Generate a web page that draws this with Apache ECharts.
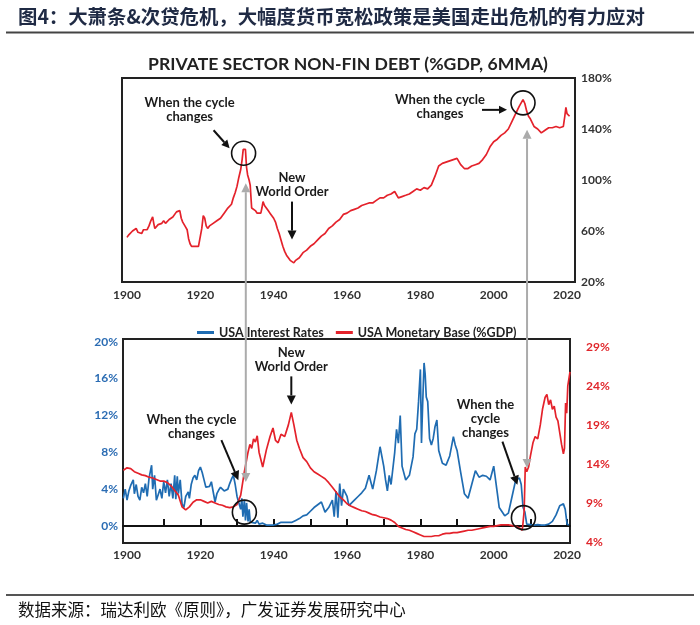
<!DOCTYPE html>
<html><head><meta charset="utf-8">
<script src="https://cdn.jsdelivr.net/npm/echarts@6/dist/echarts.min.js"></script>
<style>html,body{margin:0;padding:0;background:#fff}#c{width:700px;height:625px}</style>
</head><body><div id="c"></div>
<script>
// ---- data ----
const debtData = [[1900,55],[1900.5,57],[1901,58],[1901.5,60],[1902,61],[1902.5,62],[1903,59],[1903.5,60],[1904,58],[1904.5,61],[1905,62],[1905.5,61],[1906,64],[1906.5,68],[1907,71],[1907.3,66],[1907.6,62],[1908,63],[1908.5,65],[1909,64],[1909.5,66],[1910,68],[1910.5,66],[1911,67],[1911.5,69],[1912,69],[1912.5,71],[1913,72],[1913.5,75],[1914,76],[1914.4,76],[1914.8,70],[1915.2,67],[1915.6,68],[1916,63],[1916.4,61],[1916.8,54],[1917.2,50],[1917.6,48],[1918,47],[1918.5,48],[1919,47],[1919.5,48],[1920,49],[1920.4,62],[1920.8,72],[1921.2,70],[1921.6,64],[1922,62],[1922.5,64],[1923,64],[1923.5,66],[1924,67],[1924.5,68],[1925,68],[1925.5,70],[1926,72],[1926.5,74],[1927,75],[1927.5,78],[1928,79],[1928.5,81],[1929,86],[1929.5,90],[1930,95],[1930.5,102],[1931,108],[1931.4,116],[1931.7,124],[1932,125],[1932.3,124],[1932.6,110],[1932.9,104],[1933.3,100],[1933.6,96],[1934,78],[1934.5,77],[1935,76],[1935.5,74],[1936,73],[1936.5,74],[1936.8,78],[1937.1,83],[1937.5,80],[1938,78],[1938.5,76],[1939,74],[1939.5,72],[1940,70],[1940.5,67],[1941,62],[1941.5,58],[1942,53],[1942.5,48],[1943,44],[1943.5,41],[1944,39],[1944.5,37],[1945,36],[1945.5,35],[1946,37],[1946.5,38],[1947,39],[1947.5,41],[1948,43],[1948.5,44],[1949,45],[1950,48],[1951,50],[1952,53],[1953,56],[1954,58],[1955,62],[1956,64],[1957,67],[1958,69],[1959,73],[1960,74],[1961,76],[1962,77],[1963,78],[1964,80],[1965,81],[1966,82],[1967,82],[1968,84],[1969,86],[1970,86],[1971,88],[1972,89],[1973,91],[1974,86],[1975,87],[1976,88],[1977,89],[1978,91],[1979,93],[1980,92],[1981,94],[1982,93],[1983,96],[1984,103],[1985,111],[1986,113],[1987,114],[1988,115],[1989,116],[1990,117],[1991,112],[1992,109],[1993,109],[1994,111],[1995,112],[1996,113],[1997,116],[1998,120],[1999,126],[2000,130],[2001,132],[2002,135],[2003,137],[2004,140],[2005,146],[2006,152],[2007,158],[2008,163],[2008.5,160],[2009,154],[2009.5,150],[2010,148],[2010.5,145],[2011,142],[2012,140],[2013,137],[2014,139],[2015,141],[2016,141],[2017,142],[2018,141],[2019,142],[2019.4,150],[2019.7,157],[2020,152],[2020.4,153],[2020.7,150]];

const rateData = [[1899,3.0],[1899.5,4.0],[1900,2.8],[1900.5,3.8],[1901,4.4],[1901.7,5.0],[1902,3.5],[1902.5,4.5],[1903,3.2],[1903.5,2.8],[1904,4.2],[1904.5,3.6],[1905,4.6],[1905.5,3.2],[1906,5.2],[1906.7,6.6],[1907,4.0],[1907.5,5.5],[1908,2.8],[1908.5,3.4],[1909,4.0],[1909.5,3.0],[1910,4.8],[1910.5,3.6],[1911,5.0],[1911.5,3.2],[1912,4.6],[1912.5,3.0],[1913,5.5],[1913.3,2.9],[1913.7,5.4],[1914,3.5],[1914.5,5.0],[1915,2.4],[1915.5,2.0],[1916,3.2],[1916.7,3.7],[1917,3.0],[1917.5,4.5],[1918,5.2],[1918.5,5.5],[1919,5.0],[1919.5,6.0],[1920,6.4],[1920.5,5.8],[1921,5.0],[1921.5,4.2],[1922,4.0],[1922.5,4.3],[1923,4.8],[1923.5,4.6],[1924,2.6],[1924.5,3.5],[1925,3.9],[1925.5,4.2],[1926,4.1],[1926.5,3.8],[1927,3.6],[1927.5,4.0],[1928,4.6],[1928.6,5.2],[1929,5.5],[1929.5,4.5],[1930,3.2],[1930.5,2.5],[1931,1.8],[1931.3,3.0],[1931.6,1.0],[1932,2.8],[1932.3,0.6],[1932.6,2.5],[1933,0.5],[1933.3,1.8],[1933.6,0.4],[1934,0.5],[1935,0.3],[1935.5,0.6],[1936,0.2],[1937,0.3],[1938,0.1],[1939,0.1],[1940,0.1],[1941,0.2],[1942,0.4],[1943,0.4],[1944,0.4],[1945,0.4],[1946,0.6],[1947,0.8],[1948,1.1],[1949,1.2],[1950,1.6],[1951,2.0],[1952,2.3],[1953,2.6],[1954,1.5],[1955,2.0],[1956,2.8],[1956.5,1.0],[1957,3.8],[1957.5,0.9],[1958,4.6],[1958.5,2.2],[1959,4.0],[1960,3.2],[1960.5,2.2],[1961,2.4],[1962,2.8],[1963,3.2],[1964,3.6],[1965,4.1],[1966,5.5],[1967,4.0],[1968,6.0],[1969,8.6],[1970,6.5],[1970.5,5.0],[1971,3.8],[1971.5,5.5],[1972,4.5],[1973,8.0],[1973.5,10.5],[1974,9.0],[1974.5,12.0],[1975,6.5],[1976,5.0],[1977,5.5],[1978,7.5],[1978.5,10.0],[1979,10.5],[1979.5,13.5],[1980,17.0],[1980.3,9.0],[1980.6,13.0],[1981,17.7],[1981.3,16.5],[1981.6,14.0],[1982,13.5],[1982.5,9.5],[1983,8.8],[1983.5,9.5],[1984,10.8],[1984.5,11.5],[1985,8.2],[1986,6.8],[1987,6.6],[1988,7.6],[1989,9.7],[1989.5,8.8],[1990,8.2],[1991,5.8],[1992,3.5],[1993,3.0],[1994,4.5],[1995,6.0],[1996,5.3],[1997,5.5],[1998,5.4],[1999,5.0],[2000,6.5],[2001,3.5],[2001.5,2.0],[2002,1.7],[2003,1.1],[2004,1.4],[2005,3.2],[2006,5.0],[2007,5.2],[2007.5,4.5],[2008,2.0],[2008.5,1.5],[2009,0.2],[2010,0.15],[2011,0.1],[2012,0.15],[2013,0.1],[2014,0.1],[2015,0.2],[2016,0.5],[2017,1.2],[2018,2.2],[2019,2.4],[2019.5,1.8],[2020,0.2],[2020.5,0.1]];

const baseData = [[1899,13.2],[1900,13.5],[1901,13.4],[1902,13.0],[1903,12.8],[1904,12.6],[1905,12.5],[1906,12.3],[1907,12.2],[1908,12.0],[1909,11.8],[1910,11.8],[1911,11.6],[1912,11.2],[1913,10.6],[1914,10.0],[1915,8.5],[1916,8.1],[1917,8.5],[1918,9.1],[1919,9.4],[1920,9.4],[1921,9.2],[1922,9.0],[1923,9.2],[1924,9.0],[1925,8.8],[1926,8.7],[1927,8.5],[1928,8.4],[1929,8.5],[1930,8.8],[1931,10.0],[1932,13.0],[1933,15.5],[1933.5,16.5],[1934,16.0],[1934.5,17.2],[1935,16.8],[1935.5,17.6],[1936,15.5],[1937,13.6],[1938,15.8],[1939,17.5],[1939.8,18.6],[1940.5,17.0],[1941.2,16.7],[1942,17.8],[1942.5,18.0],[1943,17.5],[1944,19.0],[1944.8,20.6],[1945.5,19.0],[1946.3,17.0],[1947,16.0],[1948,14.8],[1949,14.3],[1950,13.5],[1951,13.0],[1952,12.7],[1953,12.4],[1954,12.1],[1955,11.6],[1956,11.0],[1957,10.4],[1958,9.8],[1959,9.4],[1960,8.9],[1961,8.6],[1962,8.4],[1963,8.2],[1964,8.0],[1965,7.9],[1966,7.7],[1967,7.5],[1968,7.4],[1969,7.2],[1970,7.1],[1971,7.0],[1972,6.8],[1973,6.5],[1974,6.0],[1975,5.8],[1976,5.6],[1977,5.5],[1978,5.3],[1979,5.1],[1980,4.9],[1981,4.7],[1982,4.7],[1983,4.7],[1984,4.8],[1985,4.8],[1986,5.0],[1987,5.1],[1988,5.1],[1989,5.2],[1990,5.2],[1991,5.3],[1992,5.4],[1993,5.5],[1994,5.5],[1995,5.6],[1996,5.7],[1997,5.8],[1998,5.9],[1999,6.0],[2000,6.0],[2001,6.1],[2002,6.2],[2003,6.2],[2004,6.2],[2005,6.1],[2006,6.0],[2007,5.8],[2007.8,5.5],[2008.3,8.0],[2008.6,13.6],[2009,13.0],[2009.5,13.6],[2010,15.0],[2010.7,16.7],[2011.3,17.5],[2012,17.2],[2012.7,19.0],[2013.3,21.0],[2014,22.5],[2014.5,22.9],[2015,21.6],[2015.5,22.2],[2016,21.0],[2016.5,21.4],[2017,20.0],[2017.5,19.5],[2018,18.0],[2018.5,16.5],[2019,15.3],[2019.3,16.0],[2019.6,21.8],[2019.9,20.5],[2020.2,24.0],[2020.8,25.8]];

const yearLabels = [1900,1920,1940,1960,1980,2000,2020];
const decadeTicks = [1910,1920,1930,1940,1950,1960,1970,1980,1990,2000,2010,2020];
const debtTicks = [20,60,100,140,180];
const rateTicks = [0,4,8,12,16,20];
const baseTicks = [4,9,14,19,24,29];

const RED = '#e4222b', BLUE = '#1f6cb2';
const FONT = 'Lato, "DejaVu Sans", sans-serif';
const CJK = '"Noto Sans CJK SC", sans-serif';

const chart = echarts.init(document.getElementById('c'), null, {renderer:'canvas'});
const lbl = (color) => ({color: color, fontFamily: FONT, fontWeight: 'bold', fontSize: 12});
const yearFmt = (v) => String(Math.round(v));

chart.setOption({
  animation: false,
  backgroundColor: '#fff',
  legend: {
    left: 192, top: 321, itemWidth: 17, itemHeight: 3, itemGap: 12,
    icon: 'rect',
    textStyle: {fontFamily: FONT, fontWeight: 'bold', fontSize: 12.5, color: '#222'},
    data: ['USA Interest Rates', 'USA Monetary Base (%GDP)']
  },
  grid: [
    {left: 122, top: 78, width: 453, height: 204, show: true, borderColor: '#222', borderWidth: 2, backgroundColor: 'transparent', outerBoundsMode: 'none'},
    {left: 123, top: 339, width: 447, height: 204, show: true, borderColor: '#222', borderWidth: 2, backgroundColor: 'transparent', outerBoundsMode: 'none'}
  ],
  xAxis: [
    {type: 'value', gridIndex: 0, min: 1898.64, max: 2022.18,
     axisLine: {show: false}, axisTick: {show: false}, splitLine: {show: false},
     axisLabel: Object.assign(lbl('#333'), {customValues: yearLabels, margin: 7, formatter: yearFmt})},
    {type: 'value', gridIndex: 1, min: 1898.9, max: 2020.8,
     axisLine: {show: true, onZero: true, onZeroAxisIndex: 1, lineStyle: {color: '#111', width: 2}},
     axisTick: {show: true, inside: true, length: 7, customValues: decadeTicks, lineStyle: {color: '#111', width: 2}},
     axisLabel: {show: false}, splitLine: {show: false}},
    {type: 'value', gridIndex: 1, min: 1898.9, max: 2020.8, position: 'bottom',
     axisLine: {show: false, onZero: false}, axisTick: {show: false}, splitLine: {show: false},
     axisLabel: Object.assign(lbl('#333'), {customValues: yearLabels, margin: 6, formatter: yearFmt})}
  ],
  yAxis: [
    {type: 'value', gridIndex: 0, position: 'right', min: 20, max: 180,
     axisLine: {show: false}, axisTick: {show: false}, splitLine: {show: false},
     axisLabel: Object.assign(lbl('#333'), {customValues: debtTicks, formatter: '{value}%', margin: 6})},
    {type: 'value', gridIndex: 1, position: 'left', min: -1.85, max: 20.3,
     axisLine: {show: false}, axisTick: {show: false}, splitLine: {show: false},
     axisLabel: Object.assign(lbl('#2b6cb3'), {customValues: rateTicks, formatter: '{value}%', margin: 5})},
    {type: 'value', gridIndex: 1, position: 'right', min: 3.87, max: 30.0,
     axisLine: {show: false}, axisTick: {show: false}, splitLine: {show: false},
     axisLabel: Object.assign(lbl('#e0262b'), {customValues: baseTicks, formatter: '{value}%', margin: 16})}
  ],
  series: [
    {name: 'Private Sector Non-Fin Debt', type: 'line', xAxisIndex: 0, yAxisIndex: 0, data: debtData,
     showSymbol: false, symbol: 'none', lineStyle: {color: RED, width: 1.7}, itemStyle: {color: RED}},
    {name: 'USA Interest Rates', type: 'line', xAxisIndex: 1, yAxisIndex: 1, data: rateData,
     showSymbol: false, symbol: 'none', lineStyle: {color: BLUE, width: 1.7}, itemStyle: {color: BLUE}},
    {name: 'USA Monetary Base (%GDP)', type: 'line', xAxisIndex: 1, yAxisIndex: 2, data: baseData,
     showSymbol: false, symbol: 'none', lineStyle: {color: RED, width: 1.7}, itemStyle: {color: RED}}
  ]
});

// ---- annotations, anchored to data positions ----
const pTop = (x, y) => chart.convertToPixel({xAxisIndex: 0, yAxisIndex: 0}, [x, y]);
const pBotL = (x, y) => chart.convertToPixel({xAxisIndex: 1, yAxisIndex: 1}, [x, y]);
const pBotR = (x, y) => chart.convertToPixel({xAxisIndex: 1, yAxisIndex: 2}, [x, y]);

function arrow(x1, y1, x2, y2, color, w, head) {
  const dx = x2 - x1, dy = y2 - y1, L = Math.hypot(dx, dy);
  const ux = dx / L, uy = dy / L;
  const bx = x2 - ux * head, by = y2 - uy * head;
  const px = -uy * head * 0.5, py = ux * head * 0.5;
  return [
    {type: 'line', z: 100, shape: {x1: x1, y1: y1, x2: bx, y2: by}, style: {stroke: color, lineWidth: w}},
    {type: 'polygon', z: 100, shape: {points: [[x2, y2], [bx + px, by + py], [bx - px, by - py]]}, style: {fill: color}}
  ];
}
function note(text, x, y) {
  return {type: 'text', z: 100, style: {text: text, x: x, y: y, align: 'center', verticalAlign: 'middle',
    font: 'bold 13px ' + FONT, fill: '#1a1a1a', lineHeight: 14}};
}
function ring(c, r) {
  return {type: 'circle', z: 100, shape: {cx: c[0], cy: c[1], r: r}, style: {fill: 'none', stroke: '#111', lineWidth: 1.6}};
}

const c1 = pTop(1931.8, 121), c2 = pTop(2008, 160.5);
const trough = pTop(1945, 36);
const c3 = pBotL(1932, 1.5), c4 = pBotL(2008.1, 0.9);
const peak = pBotR(1944.8, 20.6);
const g1x = pTop(1932.4, 100)[0], g2x = pTop(2009.1, 100)[0];

let gfx = [];
gfx.push({type: 'text', style: {text: '图4：大萧条&次贷危机，大幅度货币宽松政策是美国走出危机的有力应对', x: 18, y: 17,
  verticalAlign: 'middle', font: 'bold 19.4px ' + CJK, fill: '#1f2a44'}});
gfx.push({type: 'line', shape: {x1: 6, y1: 32.5, x2: 694, y2: 32.5}, style: {stroke: '#444', lineWidth: 2}});
gfx.push({type: 'text', style: {text: 'PRIVATE SECTOR NON-FIN DEBT (%GDP, 6MMA)', x: 348, y: 64, align: 'center', verticalAlign: 'middle',
  font: 'bold 17.6px ' + FONT, fill: '#222'}});
gfx.push({type: 'line', shape: {x1: 6, y1: 595, x2: 694, y2: 595}, style: {stroke: '#555', lineWidth: 2}});
gfx.push({type: 'text', style: {text: '数据来源：瑞达利欧《原则》，广发证券发展研究中心', x: 18, y: 610, verticalAlign: 'middle',
  font: '16.5px ' + CJK, fill: '#111'}});

const GRAY = '#ababab';
gfx = gfx.concat(arrow(g1x, 330, g1x, c1[1] + 30, GRAY, 2, 9));
gfx = gfx.concat(arrow(g1x, 330, g1x, 482, GRAY, 2, 9));
gfx = gfx.concat(arrow(g2x, 330, g2x, c2[1] + 27, GRAY, 2, 9));
gfx = gfx.concat(arrow(g2x, 330, g2x, 468, GRAY, 2, 9));

gfx.push(ring(c1, 12));
gfx.push(note('When the cycle\nchanges', c1[0] - 54, c1[1] - 43));
gfx = gfx.concat(arrow(c1[0] - 30, c1[1] - 23, c1[0] - 14, c1[1] - 5, '#111', 2, 8));
gfx.push(note('New\nWorld Order', trough[0], trough[1] - 77));
gfx = gfx.concat(arrow(trough[0], trough[1] - 60, trough[0], trough[1] - 22, '#111', 2, 9));
gfx.push(ring(c2, 12));
gfx.push(note('When the cycle\nchanges', c2[0] - 83, c2[1] + 4));
gfx = gfx.concat(arrow(c2[0] - 41, c2[1] + 7, c2[0] - 16, c2[1] + 7, '#111', 2, 8));

gfx.push(ring(c3, 12));
gfx.push(note('When the cycle\nchanges', c3[0] - 53, c3[1] - 85));
gfx = gfx.concat(arrow(c3[0] - 23, c3[1] - 72, c3[0] - 6, c3[1] - 32, '#111', 2, 9));
gfx.push(ring(c4, 12));
gfx.push(note('When the\ncycle\nchanges', c4[0] - 38, c4[1] - 99));
gfx = gfx.concat(arrow(c4[0] - 21, c4[1] - 76, c4[0] - 6, c4[1] - 33, '#111', 2, 9));
gfx.push(note('New\nWorld Order', peak[0], peak[1] - 53));
gfx = gfx.concat(arrow(peak[0], peak[1] - 36, peak[0], peak[1] - 8, '#111', 2, 9));

chart.setOption({graphic: {elements: gfx}});
</script>
</body></html>
